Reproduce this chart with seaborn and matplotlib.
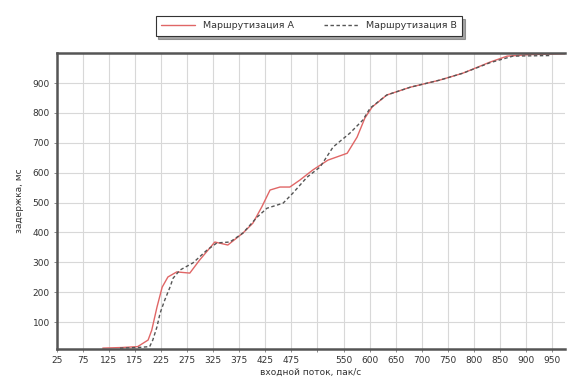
import matplotlib
matplotlib.use("Agg")
import matplotlib.pyplot as plt
import seaborn as sns
import pandas as pd
from matplotlib.lines import Line2D

# Data
xa = [113, 150, 180, 200, 207, 217, 227, 238, 255, 280, 299, 328, 353, 382, 401, 418,
      434, 453, 472, 491, 516, 545, 582, 601, 616, 630, 658, 703, 760, 804, 856, 889,
      930, 971, 1000]
ya = [13, 15, 18, 40, 73, 150, 217, 251, 268, 264, 308, 368, 358, 398, 431, 485,
      542, 552, 552, 575, 609, 642, 665, 719, 783, 820, 860, 886, 910, 933, 970, 990,
      995, 997, 998]
xb = [146, 180, 203, 209, 217, 223, 232, 242, 248, 261, 286, 313, 332, 357, 382, 409,
      428, 459, 478, 505, 530, 555, 587, 612, 626, 658, 703, 760, 804, 856, 900, 971]
yb = [13, 15, 18, 40, 84, 130, 174, 217, 247, 274, 298, 341, 365, 368, 398, 451,
      481, 498, 532, 585, 619, 686, 732, 776, 816, 860, 886, 910, 933, 968, 990, 992]
series_names = ["Маршрутизация A", "Маршрутизация B"]
xtick_pos = [25 + 50 * k for k in range(20)]
xtick_labels = ["25", "75", "125", "175", "225", "275", "325", "375", "425", "475", "",
                "550", "600", "650", "700", "750", "800", "850", "900", "950"]
ytick_vals = [100, 200, 300, 400, 500, 600, 700, 800, 900]

sns.set_style("whitegrid")
plt.rcParams["font.family"] = ["DejaVu Sans"]

df = pd.concat([
    pd.DataFrame({"x": xa, "y": ya, "s": series_names[0]}),
    pd.DataFrame({"x": xb, "y": yb, "s": series_names[1]}),
])

fig = plt.figure(figsize=(5.69, 3.88), dpi=100)
ax = fig.add_axes([0.100, 0.1005, 0.893, 0.7625])

sns.lineplot(data=df, x="x", y="y", hue="s", style="s", sort=False,
             palette={series_names[0]: "#e06666", series_names[1]: "#555555"},
             dashes={series_names[0]: "", series_names[1]: (2.5, 1.8)},
             linewidth=1.0, ax=ax, legend=False)

ax.set_xlim(25, 1000)
ax.set_ylim(10, 1000)
ax.set_xticks(xtick_pos)
ax.set_xticklabels(xtick_labels, fontsize=6.5, color="#333333")
ax.set_yticks(ytick_vals)
ax.set_yticklabels([str(v) for v in ytick_vals], fontsize=6.5, color="#333333")
ax.grid(True, color="#d8d8d8", linewidth=0.8)
ax.tick_params(axis="both", length=2, width=0.6, color="#777777", pad=3, bottom=True, left=True)

for side in ["left", "bottom", "top"]:
    ax.spines[side].set_color("#555555")
    ax.spines[side].set_linewidth(1.8)
ax.spines["right"].set_visible(False)

ax.set_xlabel("входной поток, пак/с", fontsize=6.5, color="#333333", labelpad=2)
ax.set_ylabel("задержка, мс", fontsize=6.5, color="#333333", labelpad=6)

handles = [Line2D([0], [0], color="#e06666", lw=1.0),
           Line2D([0], [0], color="#555555", lw=1.0, dashes=(2.5, 1.8))]
leg = fig.legend(handles, series_names, loc="center", bbox_to_anchor=(0.543, 0.933),
                 ncol=2, fontsize=6.8, frameon=True, fancybox=False, shadow=True,
                 handlelength=3.6, columnspacing=3.2, borderpad=0.6)
leg.get_frame().set_edgecolor("#333333")
leg.get_frame().set_linewidth(0.8)
for t in leg.get_texts():
    t.set_color("#333333")

fig.savefig("out.png", dpi=100)
